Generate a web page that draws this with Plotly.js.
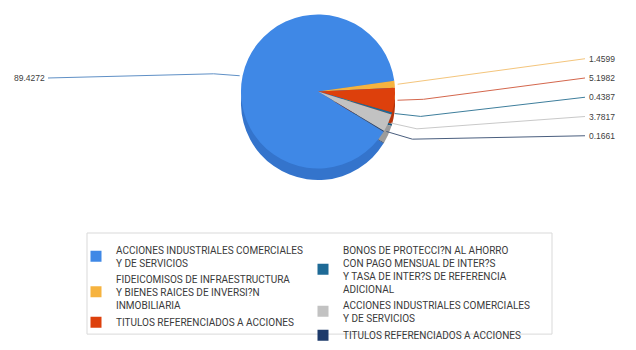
<!DOCTYPE html>
<html><head><meta charset="utf-8">
<script src="https://cdn.plot.ly/plotly-3.0.1.min.js"></script>
<style>html,body{margin:0;padding:0;background:#fff;}#chart{width:636px;height:350px;}</style>
</head><body><div id="chart"></div>
<script>
// ---- data ----
const categories = [
  "ACCIONES INDUSTRIALES COMERCIALES<br>Y DE SERVICIOS",
  "FIDEICOMISOS DE INFRAESTRUCTURA<br>Y BIENES RAICES DE INVERSI?N<br>INMOBILIARIA",
  "TITULOS REFERENCIADOS A ACCIONES",
  "BONOS DE PROTECCI?N AL AHORRO<br>CON PAGO MENSUAL DE INTER?S<br>Y TASA DE INTER?S DE REFERENCIA<br>ADICIONAL",
  "ACCIONES INDUSTRIALES COMERCIALES<br>Y DE SERVICIOS",
  "TITULOS REFERENCIADOS A ACCIONES"
];
const values = [89.4272, 1.4599, 5.1982, 0.4387, 3.7817, 0.1661];
const valueLabels = ["89.4272", "1.4599", "5.1982", "0.4387", "3.7817", "0.1661"];

// ---- styles ----
const colors     = ["#3F88E6", "#F6B33F", "#DD400C", "#1E6A96", "#C2C2C2", "#1D3A6A"];
const sideColors = ["#3474CC", "#D6962C", "#B5340A", "#17557A", "#9C9C9C", "#152C52"];
const lineColors = ["#5F90C6", "#F4C57C", "#D4674D", "#3E7E9C", "#C9C9C9", "#4A5E7E"];
const legendOf   = ["legend", "legend", "legend", "legend2", "legend2", "legend2"];

const W = 636, H = 350;
const cx = 318, cy = 95, R = 80, depth = 12;
const firstSmallStart = 82; // degrees clockwise from 12 o'clock where slice 2 begins
// label layout (pixels)
const labelX   = [47, 587, 587, 587, 587, 587];
const labelY   = [81, 61, 81, 101, 121, 141];
const lineEndX = [48, 585, 585, 585, 585, 585];
const kneeDy   = [-2, null, -1, 3, 6, 8];

const px = x => x / W;
const py = y => 1 - y / H;

const total = values.reduce((a, b) => a + b, 0);
const rot = firstSmallStart - 360 * values[0] / total;

const domTop = {x: [px(cx - R), px(cx + R)], y: [py(cy + R), py(cy - R)]};
const domSide = {x: domTop.x, y: [py(cy + R + depth), py(cy - R + depth)]};

const pieBase = {
  type: "pie", values: values, sort: false, direction: "clockwise", rotation: rot,
  textinfo: "none", hoverinfo: "skip", showlegend: false
};
const traces = [
  Object.assign({}, pieBase, {domain: domSide, marker: {colors: sideColors, line: {width: 0}}}),
  Object.assign({}, pieBase, {domain: domTop, marker: {colors: colors, line: {width: 0}}})
];
categories.forEach((c, i) => traces.push({
  type: "scatter", mode: "markers", x: [null], y: [null], name: c,
  marker: {symbol: "square", size: 11, color: colors[i]},
  legend: legendOf[i], hoverinfo: "skip"
}));

// leader lines & value labels
const shapes = [];
const annotations = [];
let acc = 0;
values.forEach((v, i) => {
  const mid = (rot + 360 * (acc + v / 2) / total) * Math.PI / 180;
  acc += v;
  const ex = cx + R * Math.sin(mid), ey = cy - R * Math.cos(mid);
  const side = ex < cx ? -1 : 1;
  let path = `M${px(ex)},${py(ey)}`;
  if (kneeDy[i] !== null) path += ` L${px(ex + side * 26)},${py(ey + kneeDy[i])}`;
  path += ` L${px(lineEndX[i])},${py(labelY[i])}`;
  shapes.push({type: "path", xref: "paper", yref: "paper", path: path,
    line: {color: lineColors[i], width: 1}});
  annotations.push({xref: "paper", yref: "paper", x: px(labelX[i]), y: py(labelY[i]),
    xanchor: side < 0 ? "right" : "left", yanchor: "middle", showarrow: false,
    text: valueLabels[i], font: {family: "Liberation Sans", size: 8.5, color: "#404040"}});
});
shapes.push({type: "rect", xref: "paper", yref: "paper",
  x0: px(87), x1: px(552), y0: py(347), y1: py(242),
  line: {color: "#D9D9D9", width: 1}, layer: "below"});

const legendFont = {family: "Roboto", size: 10, color: "#3A3A3A"};
const layout = {
  width: W, height: H, margin: {l: 0, r: 0, t: 0, b: 0},
  paper_bgcolor: "#fff", plot_bgcolor: "#fff",
  xaxis: {visible: false}, yaxis: {visible: false},
  shapes: shapes, annotations: annotations,
  legend: {x: px(76), y: py(246), xanchor: "left", yanchor: "top", font: legendFont,
    bgcolor: "rgba(0,0,0,0)", borderwidth: 0, itemclick: false, itemdoubleclick: false},
  legend2: {x: px(303), y: py(246), xanchor: "left", yanchor: "top", font: legendFont,
    bgcolor: "rgba(0,0,0,0)", borderwidth: 0, itemclick: false, itemdoubleclick: false}
};
Plotly.newPlot("chart", traces, layout, {staticPlot: true, displayModeBar: false});
</script></body></html>
